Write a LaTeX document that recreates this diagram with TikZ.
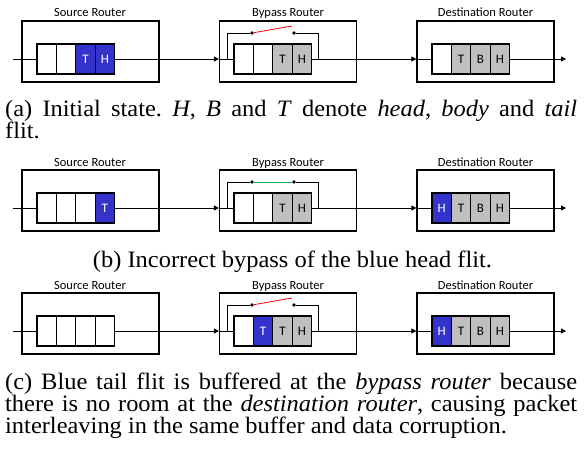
\documentclass[tikz,border=0pt]{standalone}
\usepackage{fontspec}
\usetikzlibrary{arrows.meta}
\setmainfont{Liberation Serif}
\newfontfamily\capfont[FakeStretch=1.04]{Liberation Serif}
\newfontfamily\boxfont{Carlito}
\definecolor{flitblue}{RGB}{51,51,204}
\definecolor{flitgray}{RGB}{191,191,191}
\definecolor{swred}{RGB}{255,0,0}
\definecolor{swgreen}{RGB}{0,176,80}
\newcommand{\fullline}[1]{\hbox to 572pt{#1}}
\frenchspacing

\tikzset{
  router/.style={draw, line width=1.2pt, minimum width=137pt, minimum height=61pt, inner sep=0pt},
  flit/.style={draw, line width=1.1pt, minimum width=19.4pt, minimum height=30pt, inner sep=0pt,
    font=\boxfont\fontsize{13}{13}\selectfont},
  emp/.style={fill=white},
  gry/.style={fill=flitgray},
  blu/.style={fill=flitblue, text=white},
  title/.style={font=\boxfont\fontsize{12.5}{12.5}\selectfont, anchor=base, inner sep=0pt},
  link/.style={line width=0.8pt},
  arr/.style={link, -{Triangle[length=5pt,width=5pt]}},
  sw/.style={circle, fill, inner sep=0pt, minimum size=3.8pt},
  caption/.style={font=\capfont\fontsize{23.5}{22}\selectfont, align=left, inner sep=0pt, anchor=base west},
}

% #1 name, #2 line y, #3 switch colour, #4 switch end,
% #5 #6 #7 flits of source, bypass and destination router
\newcommand{\routerrow}[7]{%
  \node[router] (#1src) at (90.5,#2-7.5) {};
  \node[router] (#1byp) at (288,#2-7.5) {};
  \node[router] (#1dst) at (485.5,#2-7.5) {};
  \node[title] at (90,#2-42) {Source Router};
  \node[title] at (288,#2-42) {Bypass Router};
  \node[title] at (485.5,#2-42) {Destination Router};
  \foreach \s/\t [count=\i] in {#5}
    \node[flit,\s] (#1s\i) at ({27.3+19.4*\i},#2) {\t};
  \foreach \s/\t [count=\i] in {#6}
    \node[flit,\s] (#1b\i) at ({224.3+19.4*\i},#2) {\t};
  \foreach \s/\t [count=\i] in {#7}
    \node[flit,\s] (#1d\i) at ({422.3+19.4*\i},#2) {\t};
  \coordinate (#1in) at (13,#2);
  \coordinate (#1out) at (566,#2);
  \draw[link] (#1in) -- (#1s1);
  \draw[arr] (#1s4) -- (#1s4 -| #1byp.west);
  \draw[link] (#1s4 -| #1byp.west) -- (#1b1);
  \draw[arr] (#1b4) -- (#1b4 -| #1dst.west);
  \draw[link] (#1b4 -| #1dst.west) -- (#1d1);
  \draw[arr] (#1d4) -- (#1out);
  % bypass path
  \node[sw] (#1k1) at (252,#2-26) {};
  \node[sw] (#1k2) at (294,#2-26) {};
  \coordinate (#1bl) at (227,#2);
  \coordinate (#1br) at (318,#2);
  \draw[link] (#1bl) |- (#1k1);
  \draw[link] (#1k2) -| (#1br);
  \draw[link, #3] (#1k1) -- #4;
}

\begin{document}
\begin{tikzpicture}[x=1pt, y=-1pt]
  \useasboundingbox (0,0) rectangle (585,449);
  \routerrow{a}{59}{swred}{++(40,-7)}{emp/{},emp/{},blu/T,blu/H}{emp/{},emp/{},gry/T,gry/H}{emp/{},gry/T,gry/B,gry/H}
  \node[caption] (capa) at (5,139) {\fullline{(a) Initial state. \textit{H}, \textit{B} and \textit{T} denote \textit{head}, \textit{body} and \textit{tail}}\\ flit.};

  \routerrow{b}{208}{swgreen}{(bk2)}{emp/{},emp/{},emp/{},blu/T}{emp/{},emp/{},gry/T,gry/H}{blu/H,gry/T,gry/B,gry/H}
  \node[caption, anchor=base] (capb) at (292.5,267) {(b) Incorrect bypass of the blue head flit.};

  \routerrow{c}{331}{swred}{++(40,-7)}{emp/{},emp/{},emp/{},emp/{}}{emp/{},blu/T,gry/T,gry/H}{blu/H,gry/T,gry/B,gry/H}
  \node[caption] (capc) at (5,433) {\fullline{(c) Blue tail flit is buffered at the \textit{bypass router} because}\\
    \fullline{there is no room at the \textit{destination router}, causing packet}\\
    interleaving in the same buffer and data corruption.};
\end{tikzpicture}
\end{document}
